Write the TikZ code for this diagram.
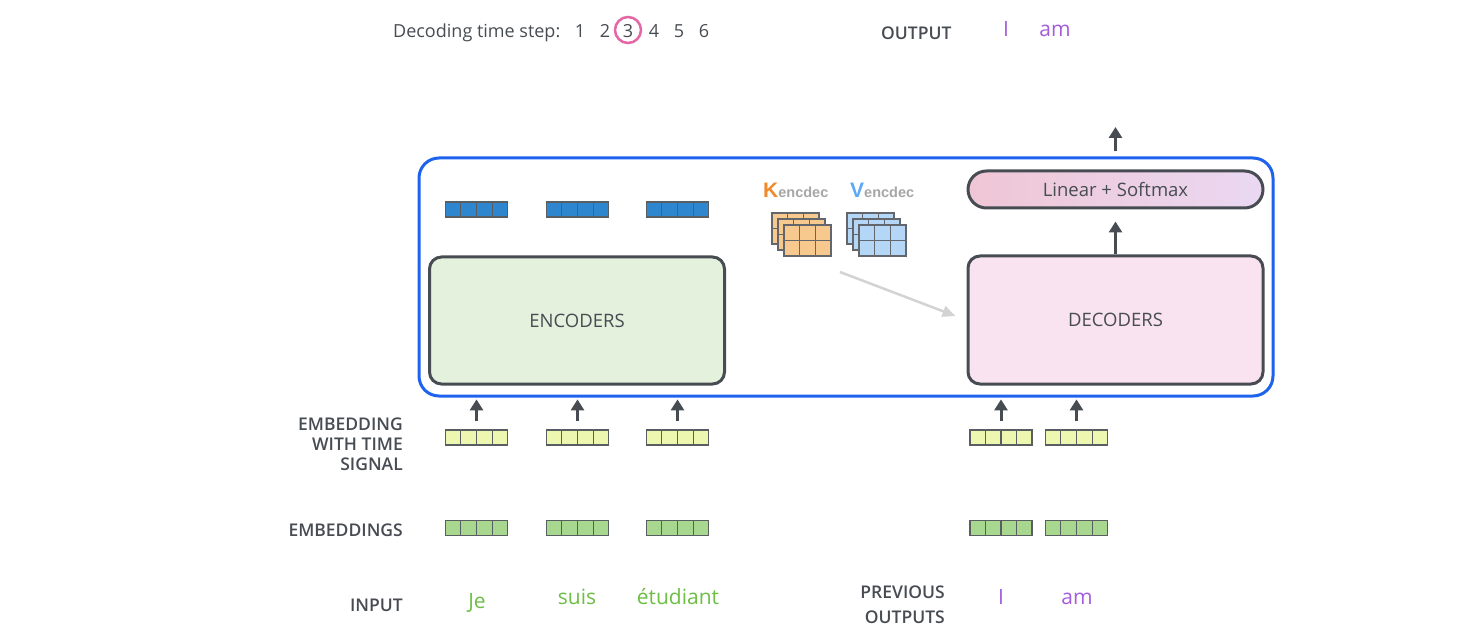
\documentclass[tikz,border=0pt]{standalone}
\usepackage{fontspec}
\setmainfont{Open Sans}
\IfFontExistsTF{Open Sans Semibold}
  {\newfontfamily\semib{Open Sans Semibold}}
  {\IfFontExistsTF{Open Sans SemiBold}
    {\newfontfamily\semib{Open Sans SemiBold}}
    {\newfontfamily\semib{Open Sans Bold}}}
\newfontfamily\kvfont{Liberation Sans}
\usetikzlibrary{arrows.meta,calc,positioning}

\definecolor{darkg}{HTML}{474C52}
\definecolor{framebl}{HTML}{1E63EE}
\definecolor{encfill}{HTML}{E3F1DD}
\definecolor{decfill}{HTML}{F9E3F0}
\definecolor{linleft}{HTML}{EFC6D5}
\definecolor{linright}{HTML}{EAD8F2}
\definecolor{topvec}{HTML}{2E86CF}
\definecolor{timevec}{HTML}{EDF7B0}
\definecolor{embvec}{HTML}{A8D890}
\definecolor{wordgreen}{HTML}{6DBE45}
\definecolor{wordpurple}{HTML}{A35CDB}
\definecolor{ringpink}{HTML}{E466A6}
\definecolor{korange}{HTML}{F0892A}
\definecolor{vblue}{HTML}{5DA9F5}
\definecolor{subgray}{HTML}{A6A6A6}
\definecolor{kfill}{HTML}{F8C98F}
\definecolor{vfill}{HTML}{B4D6F7}
\definecolor{kvgray}{HTML}{D3D3D3}

\newcommand{\cellvec}[4]{%
  \node[vecbox,fill=#4] (#1) at (#2,#3) {};
  \foreach \i in {1,2,3}
    \draw[vecline] ($(#1.south west)!\i/4!(#1.south east)$) -- ($(#1.north west)!\i/4!(#1.north east)$);
}
\newcommand{\kvgrid}[3]{%
  \draw[matline,fill=#3] (#1,#2) rectangle ++(47,31);
  \draw[matline] (#1+15.67,#2) -- ++(0,31) (#1+31.33,#2) -- ++(0,31) (#1,#2+15.5) -- ++(47,0);
}

\begin{document}
\begin{tikzpicture}[x=1pt,y=-1pt,
    block/.style={draw=darkg,line width=3pt,rounded corners=12pt,inner sep=0,
      font=\fontsize{18.5}{22}\selectfont,text=darkg},
    frame/.style={draw=framebl,line width=3pt,rounded corners=20pt,inner sep=0,
      minimum width=854pt,minimum height=238pt},
    vecbox/.style={draw=darkg!90,line width=1.2pt,minimum width=62pt,minimum height=15pt,inner sep=0},
    vecline/.style={draw=darkg!90,line width=1.2pt},
    matline/.style={draw=darkg!85,line width=1.2pt},
    uparr/.style={draw=darkg,line width=3pt,-{Triangle[width=13pt,length=11pt]}},
    kvarr/.style={draw=kvgray,line width=2.5pt,-{Triangle[width=11pt,length=13pt]}},
    lbl/.style={font=\semib\fontsize{17.5}{20}\selectfont,text=darkg,inner sep=0},
    word/.style={font=\fontsize{21}{24}\selectfont,inner sep=0,anchor=base},
    stepno/.style={font=\fontsize{18}{20}\selectfont,text=darkg,inner sep=0,anchor=base},
    kvlbl/.style={font=\kvfont\bfseries\fontsize{21}{24}\selectfont,inner sep=0,anchor=base west}]

    \useasboundingbox (0,0) rectangle (1459,644);

    \node[stepno,anchor=base west] (steplbl) at (393,38) {Decoding time step:};
    \node[stepno] (s1) at (580,38) {1};
    \node[stepno] (s2) at (605,38) {2};
    \node[stepno] (s3) at (628,38) {3};
    \node[stepno] (s4) at (654,38) {4};
    \node[stepno] (s5) at (679,38) {5};
    \node[stepno] (s6) at (704,38) {6};
    \draw[ringpink,line width=2.5pt] (628,30) circle (13);

    \node[lbl,anchor=base west] (outlbl) at (881,40) {OUTPUT};
    \node[word,text=wordpurple] (o1) at (1006,37) {I};
    \node[word,text=wordpurple] (o2) at (1055,37) {am};

    \node[frame] (box) at (846,277) {};
    \node[block,fill=encfill,minimum width=295pt,minimum height=127pt] (enc) at (577,320.5) {ENCODERS};
    \node[block,fill=decfill,minimum width=295pt,minimum height=128pt] (dec) at (1115.5,320) {DECODERS};
    \node[block,left color=linleft,right color=linright,rounded corners=18.5pt,
      minimum width=295pt,minimum height=37pt] (lin) at (1115.5,189.5) {Linear + Softmax};

    \cellvec{e1}{476.5}{209.5}{topvec}
    \cellvec{e2}{577.5}{209.5}{topvec}
    \cellvec{e3}{677.5}{209.5}{topvec}

    \node[kvlbl,text=korange] (klbl) at (763,198) {K\textcolor{subgray}{\fontsize{14.5}{16}\selectfont encdec}};
    \node[kvlbl,text=vblue] (vlbl) at (850,198) {V\textcolor{subgray}{\fontsize{14.5}{16}\selectfont encdec}};
    \foreach \d in {0,6,12} {
      \kvgrid{772+\d}{213+\d}{kfill}
      \kvgrid{847+\d}{213+\d}{vfill}
    }
    \coordinate (kvout) at (840,272);
    \draw[kvarr] (kvout) -- ([xshift=-11pt,yshift=4pt]dec.west);

    \draw[uparr] (dec.north) -- ([yshift=-12pt]lin.south);
    \coordinate (out) at (1115.5,127);
    \draw[uparr] (lin |- box.north) ++(0,-5) -- (out);

    \cellvec{t1}{476.5}{437.5}{timevec}
    \cellvec{t2}{577.5}{437.5}{timevec}
    \cellvec{t3}{677.5}{437.5}{timevec}
    \cellvec{t4}{1001}{437.5}{timevec}
    \cellvec{t5}{1076.5}{437.5}{timevec}
    \cellvec{m1}{476.5}{528}{embvec}
    \cellvec{m2}{577.5}{528}{embvec}
    \cellvec{m3}{677.5}{528}{embvec}
    \cellvec{m4}{1001}{528}{embvec}
    \cellvec{m5}{1076.5}{528}{embvec}
    \foreach \v in {t1,t2,t3,t4,t5}
      \draw[uparr] ([yshift=8pt]\v.north) -- ([yshift=30pt]\v.north);

    \node[lbl,align=right,anchor=base east] (timelbl) at (403,470) {EMBEDDING\\WITH TIME\\SIGNAL};
    \node[lbl,anchor=base east] (emblbl) at (403,536) {EMBEDDINGS};
    \node[lbl,anchor=base east] (inlbl) at (403,611) {INPUT};
    \node[lbl,align=right,anchor=base east] (prevlbl) at (945,623) {PREVIOUS\\[5pt]OUTPUTS};

    \node[word,text=wordgreen] (w1) at (477,608) {Je};
    \node[word,text=wordgreen] (w2) at (577,604) {suis};
    \node[word,text=wordgreen] (w3) at (678,604) {étudiant};
    \node[word,text=wordpurple] (p1) at (1001,604) {I};
    \node[word,text=wordpurple] (p2) at (1077,604) {am};
\end{tikzpicture}
\end{document}
